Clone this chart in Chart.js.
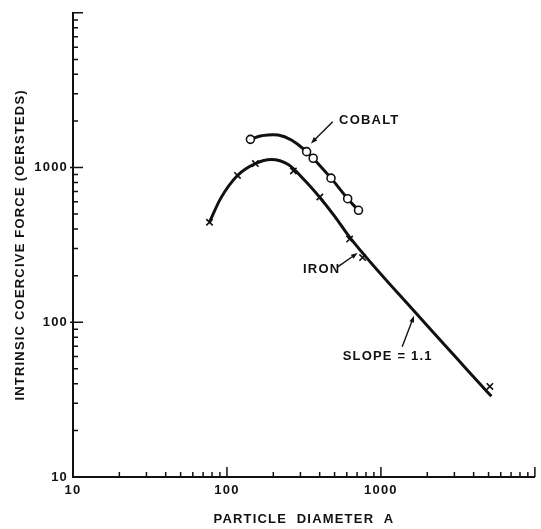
<!DOCTYPE html>
<html>
<head>
<meta charset="utf-8">
<script src="https://cdn.jsdelivr.net/npm/chart.js@4.4.1/dist/chart.umd.min.js"></script>
<style>
  html, body { margin: 0; padding: 0; background: #fff; }
  #wrap { width: 541px; height: 529px; }
</style>
</head>
<body>
<div id="wrap"><canvas id="chart" width="541" height="529"></canvas></div>
<script>
// measured points (particle diameter in A, coercive force in Oe)
const ironDiameter = [77, 117, 153, 270, 401, 626, 760, 5100];
const ironForce = [443, 889, 1060, 950, 645, 345, 262, 38.5];
const cobaltDiameter = [142, 329, 363, 474, 608, 715];
const cobaltForce = [1521, 1267, 1148, 854, 629, 529];

// hand-drawn fit curves
const ironCurveDiameter = [77, 91, 117, 153, 194, 250, 316, 401, 501, 626, 1715, 5216];
const ironCurveForce = [443, 632, 889, 1061, 1126, 1045, 837, 641, 484, 355, 112.5, 33.2];
const cobaltCurveDiameter = [142, 168, 215, 262, 329, 363, 474, 608, 715];
const cobaltCurveForce = [1521, 1606, 1623, 1507, 1267, 1148, 854, 629, 529];

const xTickValues = [10, 100, 1000, 10000];
const xTickLabels = ["10", "100", "1000", ""];
const yTickValues = [10, 100, 1000, 10000];
const yTickLabels = ["10", "100", "1000", ""];
const minorSteps = [2, 3, 4, 5, 6, 7, 8, 9];

const noteText = ["COBALT", "IRON", "SLOPE = 1.1"];
const noteAt = [[535, 2030], [312, 221], [564, 60]];
const arrowFrom = [[486, 1977], [524, 228], [1374, 69.5]];
const arrowTo = [[351, 1432], [705, 280], [1641, 110]];

const INK = "#111";
const FONT = "bold 13px 'Liberation Sans', Arial, sans-serif";

function toPoints(xs, ys) {
  return xs.map((x, i) => ({ x, y: ys[i] }));
}

function drawArrow(ctx, x0, y0, x1, y1) {
  const a = Math.atan2(y1 - y0, x1 - x0);
  const head = 7;
  ctx.beginPath();
  ctx.moveTo(x0, y0);
  ctx.lineTo(x1 - Math.cos(a) * head * 0.8, y1 - Math.sin(a) * head * 0.8);
  ctx.stroke();
  ctx.beginPath();
  ctx.moveTo(x1, y1);
  ctx.lineTo(x1 - head * Math.cos(a - 0.35), y1 - head * Math.sin(a - 0.35));
  ctx.lineTo(x1 - head * Math.cos(a + 0.35), y1 - head * Math.sin(a + 0.35));
  ctx.closePath();
  ctx.fill();
}

const axisMarks = {
  id: "axisMarks",
  beforeDraw(chart) {
    chart.ctx.letterSpacing = "1.2px";
  },
  afterDraw(chart) {
    const { ctx, chartArea: area } = chart;
    const x = chart.scales.x;
    const y = chart.scales.y;
    ctx.save();
    ctx.strokeStyle = INK;
    ctx.fillStyle = INK;
    ctx.lineWidth = 1.5;
    ctx.beginPath();
    xTickValues.forEach((v, i) => {
      const px = x.getPixelForValue(v);
      ctx.moveTo(px, area.bottom);
      ctx.lineTo(px, area.bottom - 10);
      if (i === xTickValues.length - 1) return;
      minorSteps.forEach((m) => {
        const p = x.getPixelForValue(v * m);
        ctx.moveTo(p, area.bottom);
        ctx.lineTo(p, area.bottom - 5);
      });
    });
    yTickValues.forEach((v, i) => {
      const py = y.getPixelForValue(v);
      ctx.moveTo(area.left - (i > 0 && i < 3 ? 3 : 0), py);
      ctx.lineTo(area.left + 10, py);
      if (i === yTickValues.length - 1) return;
      minorSteps.forEach((m) => {
        const p = y.getPixelForValue(v * m);
        ctx.moveTo(area.left, p);
        ctx.lineTo(area.left + 5, p);
      });
    });
    ctx.stroke();

    // labels and arrows
    ctx.font = FONT;
    ctx.textAlign = "left";
    ctx.textBaseline = "middle";
    noteText.forEach((t, i) => {
      ctx.fillText(t, x.getPixelForValue(noteAt[i][0]), y.getPixelForValue(noteAt[i][1]));
    });
    ctx.lineWidth = 1.4;
    arrowFrom.forEach((f, i) => {
      drawArrow(ctx,
        x.getPixelForValue(f[0]), y.getPixelForValue(f[1]),
        x.getPixelForValue(arrowTo[i][0]), y.getPixelForValue(arrowTo[i][1]));
    });
    ctx.restore();
  },
};

const tickFont = { family: "'Liberation Sans', Arial, sans-serif", size: 13, weight: "bold" };

new Chart(document.getElementById("chart"), {
  type: "scatter",
  data: {
    datasets: [
      {
        label: "Iron",
        data: toPoints(ironDiameter, ironForce),
        pointStyle: "crossRot",
        pointRadius: 4.5,
        borderColor: INK,
        borderWidth: 1.6,
      },
      {
        label: "Cobalt",
        data: toPoints(cobaltDiameter, cobaltForce),
        pointStyle: "circle",
        pointRadius: 4,
        backgroundColor: "#fff",
        borderColor: INK,
        borderWidth: 1.6,
      },
      {
        label: "Iron fit",
        data: toPoints(ironCurveDiameter, ironCurveForce),
        showLine: true,
        pointRadius: 0,
        borderColor: INK,
        borderWidth: 3,
        cubicInterpolationMode: "monotone",
      },
      {
        label: "Cobalt fit",
        data: toPoints(cobaltCurveDiameter, cobaltCurveForce),
        showLine: true,
        pointRadius: 0,
        borderColor: INK,
        borderWidth: 3,
        tension: 0.4,
      },
    ],
  },
  options: {
    responsive: false,
    animation: false,
    layout: { padding: { top: 10, right: 2, left: 0, bottom: 0 } },
    plugins: { legend: { display: false }, tooltip: { enabled: false } },
    scales: {
      x: {
        type: "logarithmic",
        min: 10,
        max: 10000,
        afterBuildTicks: (s) => { s.ticks = xTickValues.map((v) => ({ value: v })); },
        afterFit: (s) => { s.height = 52; },
        grid: { display: true, drawOnChartArea: false, drawTicks: false },
        border: { display: true, color: INK, width: 2 },
        ticks: {
          autoSkip: false,
          maxRotation: 0,
          padding: 6,
          color: INK,
          font: tickFont,
          callback: (v) => xTickLabels[xTickValues.indexOf(v)] ?? "",
        },
        title: {
          display: true,
          text: "PARTICLE  DIAMETER  A",
          color: INK,
          font: tickFont,
          padding: { top: 0, bottom: 2 },
        },
      },
      y: {
        type: "logarithmic",
        min: 10,
        max: 10000,
        afterBuildTicks: (s) => { s.ticks = yTickValues.map((v) => ({ value: v })); },
        afterFit: (s) => { s.width = 73; },
        grid: { display: true, drawOnChartArea: false, drawTicks: false },
        border: { display: true, color: INK, width: 2 },
        ticks: {
          autoSkip: false,
          padding: 5,
          color: INK,
          font: tickFont,
          callback: (v) => yTickLabels[yTickValues.indexOf(v)] ?? "",
        },
        title: {
          display: true,
          text: "INTRINSIC COERCIVE FORCE (OERSTEDS)",
          color: INK,
          font: tickFont,
          padding: { top: 13, bottom: 0 },
        },
      },
    },
  },
  plugins: [axisMarks],
});
</script>
</body>
</html>
